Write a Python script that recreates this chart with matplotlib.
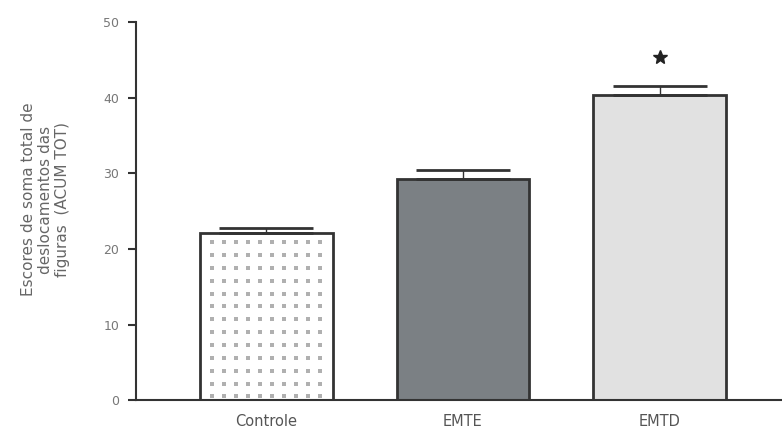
import matplotlib
matplotlib.use('Agg')
import matplotlib.pyplot as plt
import numpy as np

groups = ['Controle', 'EMTE', 'EMTD']
means = [22.1, 29.2, 40.3]
errs = [0.7, 1.2, 1.3]
fills = ['white', '#7b8084', '#e1e1e1']
star_y = 45.4

width = 0.675

fig = plt.figure(figsize=(7.82, 4.34), dpi=100)
ax = fig.add_axes([0.174, 0.078, 0.826, 0.871])

x = np.arange(len(groups))
ax.bar(x, means, width=width, color=fills, edgecolor='none', zorder=2)

# dotted fill on the control bar, square grid of dots
cols = np.linspace(x[0] - width / 2, x[0] + width / 2, 12)[1:-1]
rows = np.arange(0.5, means[0] - 1, 1.7)
dx, dy = np.meshgrid(cols, rows)
ax.scatter(dx.ravel(), dy.ravel(), s=6, marker='s', color='#b0b0b0',
           linewidths=0, zorder=2)

ax.bar(x, means, width=width, color='none', edgecolor='#333333',
       linewidth=2, zorder=3)
ax.errorbar(x, means, yerr=[[0] * 3, errs], fmt='none', ecolor='#333333',
            elinewidth=1, capsize=34, capthick=2, zorder=4)
ax.plot(x[2], star_y, marker='*', color='#222222', markersize=10, zorder=4)

ax.set_ylim(0, 50)
ax.set_xlim(-0.66, 2.62)
ax.set_yticks([0, 10, 20, 30, 40, 50])
ax.set_xticks(x)
ax.set_xticklabels(groups)
ax.tick_params(axis='x', length=0, pad=10, labelsize=10.5, labelcolor='#555555')
ax.tick_params(axis='y', length=6, width=1.5, color='#333333', labelsize=9,
               labelcolor='#777777', pad=6)
for s in ['top', 'right']:
    ax.spines[s].set_visible(False)
ax.spines['left'].set_linewidth(1.5)
ax.spines['left'].set_color('#333333')
ax.spines['bottom'].set_linewidth(1.5)
ax.spines['bottom'].set_color('#333333')

fig.text(0.058, 0.54, 'Escores de soma total de\ndeslocamentos das\nfiguras  (ACUM TOT)',
         rotation=90, ha='center', va='center', multialignment='center',
         fontsize=11, color='#666666', linespacing=1.15)

fig.savefig('out.png', dpi=100)
